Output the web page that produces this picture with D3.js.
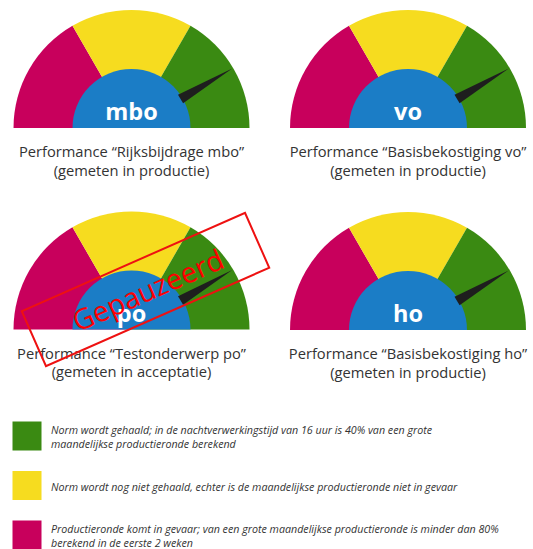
<!DOCTYPE html>
<html>
<head>
<meta charset="utf-8">
<script src="https://cdn.jsdelivr.net/npm/d3@7"></script>
<style>
  body { margin: 0; background: #fff; }
  svg { display: block; }
</style>
</head>
<body>
<svg width="533" height="549"></svg>
<script>
// gauge data
var gaugeLabels   = [ 'mbo', 'vo', 'po', 'ho' ],
    gaugeTitles   = [
        'Performance \u201cRijksbijdrage mbo\u201d',
        'Performance \u201cBasisbekostiging vo\u201d',
        'Performance \u201cTestonderwerp po\u201d',
        'Performance \u201cBasisbekostiging ho\u201d'
    ],
    gaugeSubtitles = [
        '(gemeten in productie)',
        '(gemeten in productie)',
        '(gemeten in acceptatie)',
        '(gemeten in productie)'
    ],
    needleValues  = [ 83, 83, 83, 83 ],
    pausedGauges  = [ 'po' ],
    bandEdges     = [ 0, 33.33, 66.67, 100 ],
    bandColors    = [ '#c8005c', '#f6dc1f', '#3a8a12' ],
    legendColors  = [ '#3a8a12', '#f6dc1f', '#c8005c' ],
    legendTexts   = [
        [ 'Norm wordt gehaald; in de nachtverwerkingstijd van 16 uur is 40% van een grote',
          'maandelijkse productieronde berekend' ],
        [ 'Norm wordt nog niet gehaald, echter is de maandelijkse productieronde niet in gevaar' ],
        [ 'Productieronde komt in gevaar; van een grote maandelijkse productieronde is minder dan 80%',
          'berekend in de eerste 2 weken' ]
    ];

var svg = d3.select( 'svg' ),
    outerR = 118,
    innerR = 59,
    centers = [ [ 131.5, 128 ], [ 408, 128 ], [ 131.5, 329.5 ], [ 408, 330 ] ],
    angle = d3.scaleLinear().domain( [ 0, 100 ] ).range( [ -Math.PI / 2, Math.PI / 2 ] ),
    arc = d3.arc();

gaugeLabels.forEach( function( label, i ) {
    var g = svg.append( 'g' )
        .attr( 'transform', 'translate(' + centers[ i ][ 0 ] + ',' + centers[ i ][ 1 ] + ')' );

    // coloured bands
    g.selectAll( '.band' )
        .data( bandColors )
        .enter().append( 'path' )
        .attr( 'class', 'band' )
        .attr( 'fill', function( d ) { return d; } )
        .attr( 'd', function( d, j ) {
            return arc( {
                innerRadius : 0,
                outerRadius : outerR,
                startAngle  : angle( bandEdges[ j ] ),
                endAngle    : angle( bandEdges[ j + 1 ] )
            } );
        } );

    // blue hub
    g.append( 'path' )
        .attr( 'fill', '#1b7dc6' )
        .attr( 'd', arc( { innerRadius: 0, outerRadius: innerR, startAngle: -Math.PI / 2, endAngle: Math.PI / 2 } ) );

    // needle
    var a = angle( needleValues[ i ] ),
        ux = Math.sin( a ), uy = -Math.cos( a ),
        px = -uy, py = ux,
        r0 = innerR - 2, r1 = outerR - 1, w = 5;
    g.append( 'path' )
        .attr( 'fill', '#1e1e1e' )
        .attr( 'd', d3.line()( [
            [ ux * r0 + px * w, uy * r0 + py * w ],
            [ ux * r1, uy * r1 ],
            [ ux * r0 - px * w, uy * r0 - py * w ]
        ] ) + 'Z' );

    g.append( 'text' )
        .attr( 'x', 0 )
        .attr( 'y', -8 )
        .attr( 'text-anchor', 'middle' )
        .attr( 'font-family', 'Open Sans' )
        .attr( 'font-weight', 'bold' )
        .attr( 'font-size', 23.5 )
        .attr( 'fill', '#fff' )
        .text( label );

    g.append( 'text' )
        .attr( 'x', 0 )
        .attr( 'y', 29 )
        .attr( 'text-anchor', 'middle' )
        .attr( 'font-family', 'Open Sans' )
        .attr( 'font-size', 14.7 )
        .attr( 'fill', '#333' )
        .text( gaugeTitles[ i ] );

    g.append( 'text' )
        .attr( 'x', 0 )
        .attr( 'y', 47.5 )
        .attr( 'text-anchor', 'middle' )
        .attr( 'font-family', 'Open Sans' )
        .attr( 'font-size', 14.7 )
        .attr( 'fill', '#333' )
        .text( gaugeSubtitles[ i ] );

    if ( pausedGauges.indexOf( label ) >= 0 ) {
        var stamp = g.append( 'g' )
            .attr( 'transform', 'translate(14,-40) rotate(-23.8)' );
        stamp.append( 'rect' )
            .attr( 'x', -122 )
            .attr( 'y', -30 )
            .attr( 'width', 244 )
            .attr( 'height', 60 )
            .attr( 'fill', 'none' )
            .attr( 'stroke', '#ee1111' )
            .attr( 'stroke-width', 2 );
        stamp.append( 'text' )
            .attr( 'x', 2 )
            .attr( 'y', 12 )
            .attr( 'text-anchor', 'middle' )
            .attr( 'font-family', 'Open Sans' )
            .attr( 'font-size', 28.5 )
            .attr( 'fill', '#ff0000' )
            .text( 'Gepauzeerd' );
    }
} );

// legend
var legendY = [ 421.5, 471, 520.5 ];
legendColors.forEach( function( c, i ) {
    svg.append( 'rect' )
        .attr( 'x', 12.5 )
        .attr( 'y', legendY[ i ] )
        .attr( 'width', 29 )
        .attr( 'height', 29 )
        .attr( 'fill', c );

    var lines = legendTexts[ i ],
        y0 = lines.length === 1 ? legendY[ i ] + 20 : legendY[ i ] + 12;
    lines.forEach( function( line, k ) {
        svg.append( 'text' )
            .attr( 'x', 51 )
            .attr( 'y', y0 + k * 14 )
            .attr( 'font-family', 'Open Sans' )
            .attr( 'font-style', 'italic' )
            .attr( 'font-size', 10.7 )
            .attr( 'fill', '#333' )
            .text( line );
    } );
} );
</script>
</body>
</html>
